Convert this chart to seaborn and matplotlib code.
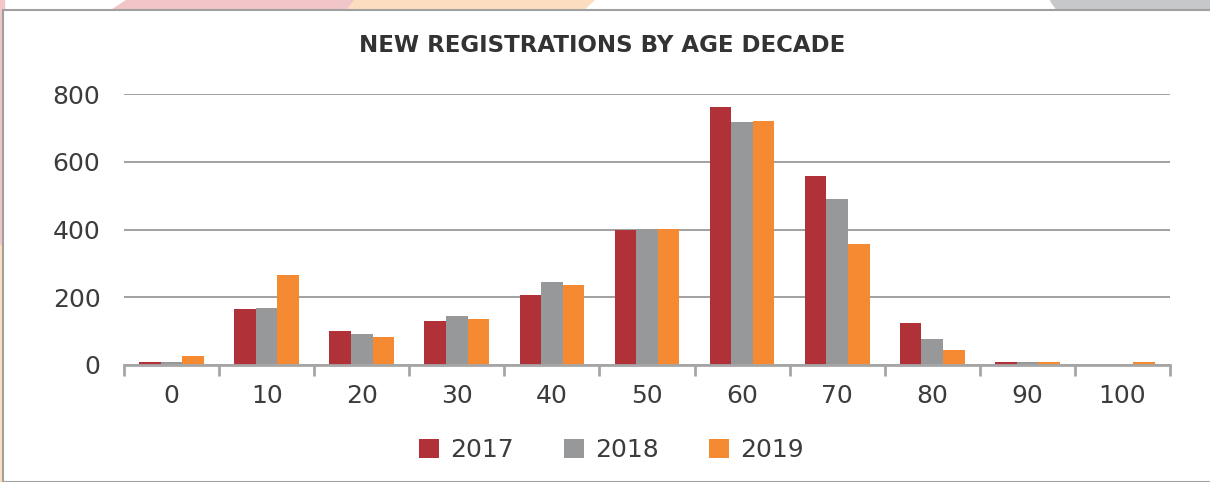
import numpy as np
import pandas as pd
import seaborn as sns
import matplotlib.pyplot as plt
from matplotlib.patches import Polygon, Rectangle

# Data
decades = ["0", "10", "20", "30", "40", "50", "60", "70", "80", "90", "100"]
reg_2017 = [10, 166, 101, 131, 206, 398, 762, 557, 124, 10, 0]
reg_2018 = [10, 169, 91, 146, 245, 402, 716, 491, 77, 10, 0]
reg_2019 = [28, 267, 82, 136, 236, 402, 719, 358, 44, 10, 10]
years = ["2017", "2018", "2019"]
colors = ["#B03238", "#97989A", "#F58A32"]

df = pd.DataFrame({"decade": decades * 3,
                   "year": np.repeat(years, len(decades)),
                   "count": reg_2017 + reg_2018 + reg_2019})

sns.set_style("white")
plt.rcParams["font.family"] = ["DejaVu Sans"]
text_col = "#3c3c3c"
axis_col = "#a6a6a6"

fig = plt.figure(figsize=(12.1, 4.82), dpi=100)

# decorative background shapes behind the white panel
W, H = 1210.0, 482.0
def fpoly(pts, color):
    fig.patches.append(Polygon([(x / W, 1 - y / H) for x, y in pts], closed=True,
                               transform=fig.transFigure, color=color, zorder=-3))
fpoly([(112, 10), (127, 0), (355, 0), (347, 10)], "#F2C6C8")
fpoly([(347, 10), (355, 0), (594, 0), (583, 10)], "#FCDDC0")
fpoly([(1050, 0), (1210, 0), (1210, 10), (1057, 10)], "#C7C8CA")
fpoly([(0, 0), (4, 0), (4, 245), (0, 245)], "#F2C6C8")
fpoly([(0, 245), (4, 245), (4, 482), (0, 482)], "#FCDDC0")
fig.patches.append(Rectangle((3 / W, 0), 1.0, 1 - 10 / H, transform=fig.transFigure,
                             facecolor="white", edgecolor="#a0a0a0", lw=1.5, zorder=-2))

ax = fig.add_axes([124 / W, 1 - 365 / H, (1170 - 124) / W, (365 - 94) / H])
ax.set_facecolor("none")
sns.barplot(data=df, x="decade", y="count", hue="year", palette=colors,
            width=0.68, gap=0, saturation=1, linewidth=0, ax=ax, legend=True)

ax.set_ylim(0, 800)
ax.set_yticks([0, 200, 400, 600, 800])
ax.yaxis.grid(True, color="#9a9a9a", lw=1.3)
ax.set_axisbelow(True)
ax.set_xlim(-0.5, len(decades) - 0.5)
for s in ["top", "right", "left"]:
    ax.spines[s].set_visible(False)
ax.spines["bottom"].set_color(axis_col)
ax.spines["bottom"].set_linewidth(2)
ax.set_xlabel("")
ax.set_ylabel("")

# tick marks between categories, labels centred
ax.set_xticks(np.arange(-0.5, len(decades), 1.0), minor=True)
ax.tick_params(axis="x", which="minor", bottom=True, length=8, width=2,
               color=axis_col, direction="out")
ax.tick_params(axis="x", which="major", length=0, pad=14, labelsize=18, labelcolor=text_col)
ax.tick_params(axis="y", length=0, pad=17, labelsize=18, labelcolor=text_col)

ax.set_title("NEW REGISTRATIONS BY AGE DECADE", fontsize=16.5, fontweight="bold",
             color="#333333", pad=30, x=0.457)

handles, labels = ax.get_legend_handles_labels()
ax.legend(handles, labels, loc="center", bbox_to_anchor=(0.466, -0.314), ncol=3,
          frameon=False, fontsize=18, labelcolor=text_col, handlelength=0.8,
          handleheight=0.8, handletextpad=0.45, columnspacing=2.0)

fig.savefig("out.png", dpi=100)
